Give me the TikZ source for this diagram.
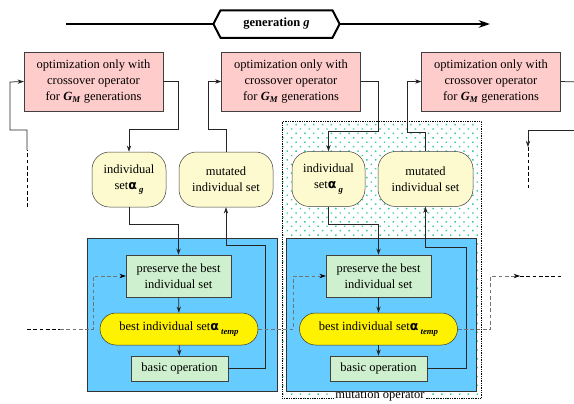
\documentclass[tikz,border=0pt]{standalone}
\usepackage{fontspec}
\setmainfont{Liberation Serif}
\newfontfamily\alphafont{DejaVu Sans}
\usetikzlibrary{positioning,arrows.meta,shapes.symbols,patterns.meta}

\definecolor{optpink}{RGB}{255,204,204}
\definecolor{setyellow}{RGB}{252,250,206}
\definecolor{opblue}{RGB}{102,204,255}
\definecolor{presgreen}{RGB}{206,240,206}
\definecolor{dotteal}{RGB}{51,204,153}

\newcommand{\alphasub}[1]{{\alphafont\bfseries α}\,\raisebox{-0.6ex}{\scriptsize\bfseries\itshape #1}}
\newcommand{\GM}{{\bfseries\itshape G\textsubscript{M}}}

\begin{document}
\begin{tikzpicture}
    [x=0.8pt, y=-0.8pt, font=\fontsize{10}{13}\selectfont,
      every node/.style={align=center, inner sep=2pt},
      optbox/.style = {rectangle, draw=black!75, fill=optpink,
        minimum width=111pt, minimum height=47pt},
      setbox/.style = {rectangle, rounded corners=14pt, draw=black!75,
        fill=setyellow, minimum height=44pt},
      opbox/.style = {rectangle, draw=black!80, fill=opblue,
        minimum width=152pt, minimum height=122.4pt},
      presbox/.style = {rectangle, draw=black!75, fill=presgreen,
        minimum width=84pt, minimum height=33.6pt},
      basicbox/.style = {presbox, minimum width=77.6pt, minimum height=20pt},
      bestnode/.style = {rectangle, rounded corners=12.8pt, draw=black!80,
        fill=yellow, minimum width=126.4pt, minimum height=25.6pt},
      mutframe/.style = {rectangle, densely dotted, draw=black,
        pattern={Dots[distance=5pt, radius=0.8pt, angle=45]},
        pattern color=dotteal, minimum width=159.2pt, minimum height=221.6pt},
      link/.style = {black!85, line width=0.6pt},
      flow/.style = {link, -{Stealth[length=5pt, width=3.5pt]}},
      greyflow/.style = {densely dashed, black!55, line width=0.5pt,
        -{Stealth[length=5pt, width=3.5pt, black]}},
      loose/.style = {densely dashed, black, line width=0.8pt}]

    \useasboundingbox (0,0) rectangle (574,403);
    \clip (0,0) rectangle (574,403);

    \coordinate (tstart) at (66,24);
    \coordinate (tend) at (490,24);
    \draw[line width=2pt, -{Stealth[length=9pt, width=6pt]}] (tstart) -- (tend);
    \node[signal, signal to=east and west, signal pointer angle=125, draw,
      line width=1.6pt, fill=white, minimum width=101pt, minimum height=22pt,
      font=\fontsize{10}{13}\selectfont\bfseries] (gen) at (276.5,24)
    {generation \textit{g}};

    \node (opt1) [optbox] at (93.5,81.5)
    {optimization only with\\ crossover operator\\ for \GM{} generations};
    \node (opt2) [optbox] at (291,81.5)
    {optimization only with\\ crossover operator\\ for \GM{} generations};
    \node (opt3) [optbox] at (491,81.5)
    {optimization only with\\ crossover operator\\ for \GM{} generations};

    \node (mutop) [mutframe] at (381.5,259.5) {};
    \node (mutlabel) [fill=white, inner sep=1pt] at (380,396) {mutation operator};

    \node (set1) [setbox, minimum width=59.2pt] at (129,179.5)
    {individual\\ set\alphasub{g}};
    \node (mut1) [setbox, minimum width=75.2pt] at (226,179.5)
    {mutated\\ individual set};
    \node (set2) [setbox, minimum width=58.4pt] at (328.5,179)
    {individual\\ set\alphasub{g}};
    \node (mut2) [setbox, minimum width=76pt] at (425.5,179)
    {mutated\\ individual set};

    \node (op1) [opbox] at (182,314.5) {};
    \node (op2) [opbox] at (381,314.5) {};

    \node (pres1) [presbox] at (178.5,276) {preserve the best\\ individual set};
    \node (best1) [bestnode] at (179,329) {best individual set\alphasub{temp}};
    \node (basic1) [basicbox] at (179.5,368.5) {basic operation};
    \node (pres2) [presbox] at (378.5,276) {preserve the best\\ individual set};
    \node (best2) [bestnode] at (378.5,329) {best individual set\alphasub{temp}};
    \node (basic2) [basicbox] at (378.5,368.5) {basic operation};

    \draw[flow] (pres1) -- (best1);
    \draw[flow] (best1) -- (basic1);
    \draw[flow] (pres2) -- (best2);
    \draw[flow] (best2) -- (basic2);

    \draw[flow] (opt1.east) -| ++(15,48) -| (set1.north);
    \draw[flow] (set1.south) -- ++(0,17) -| (pres1.north);
    \draw[flow] (basic1.east) -| ++(37,-123) -| (mut1.south);
    \draw[flow] (mut1.north) |- ++(-18,-22) |- (opt2.west);

    \draw[flow] (opt2.east) -| ++(18,50) -| (set2.north);
    \draw[flow] (set2.south) -- ++(0,18) -| (pres2.north);
    \draw[flow] (basic2.east) -| ++(39,-121) -| (mut2.south);
    \draw[flow] (mut2.north) |- ++(-18,-19) |- (opt3.west);

    \coordinate (inTop) at (27,207);
    \coordinate (outTop) at (578,82);
    \coordinate (inTopR) at (578,130);
    \draw[loose] (inTop) -- ++(0,-57);
    \draw[flow] (inTop) ++(0,-57) -- ++(0,-20) -| ++(-17,-48) -- (opt1.west);
    \draw[link] (opt3.east) -- (outTop);
    \draw[flow] (inTopR) -| ++(-50,17);
    \draw[loose] (inTopR) ++(-50,17) -- ++(0,43);

    \coordinate (inBest) at (27,329);
    \coordinate (outBestA) at (520,276);
    \coordinate (outBest) at (562,276);
    \draw[loose] (inBest) -- ++(33,0);
    \draw[greyflow] (inBest) ++(33,0) -- ++(33,0) |- (pres1.west);
    \draw[greyflow] (best1.east) -- ++(35,0) |- (pres2.west);
    \draw[greyflow] (best2.east) -- ++(33,0) |- (outBestA);
    \draw[loose] (outBestA) -- (outBest);
  \end{tikzpicture}
\end{document}
